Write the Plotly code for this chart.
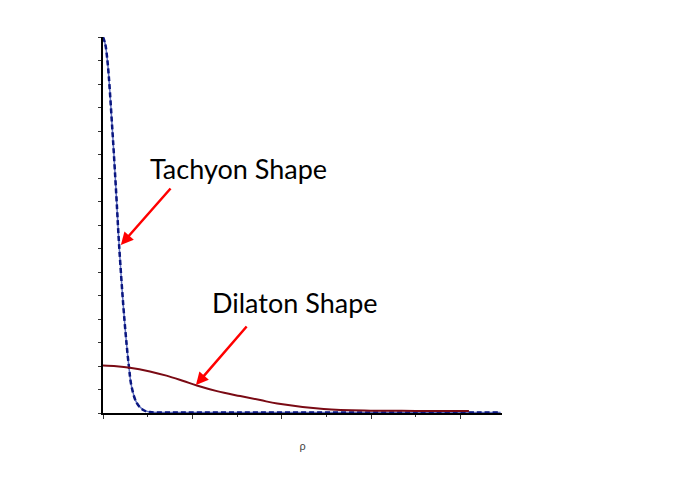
import plotly.graph_objects as go

# tachyon profile
rho_t = [0, 0.05, 0.105, 0.21, 0.30, 0.36, 0.48, 0.58, 0.64, 0.755, 0.90, 1.05, 1.5, 3, 5, 7, 8.9]
tachyon = [16, 15.7, 14.88, 12.04, 9.2, 7.15, 3.96, 1.97, 1.12, 0.43, 0.13, 0.04, 0.02, 0.02, 0.02, 0.02, 0.02]

# dilaton profile
rho_d = [0, 0.3, 0.6, 1.05, 1.42, 1.80, 2.10, 2.55, 3.07, 3.52, 3.90, 4.94, 5.99, 7.0, 8.19]
dilaton = [2.02, 1.99, 1.93, 1.77, 1.59, 1.36, 1.17, 0.93, 0.72, 0.55, 0.40, 0.17, 0.10, 0.09, 0.085]

fig = go.Figure()

# blue curve: light solid under a dark dashed stroke
fig.add_trace(go.Scatter(x=rho_t, y=tachyon, mode='lines', line_shape='spline',
                         line=dict(color='#6070c0', width=1.5), hoverinfo='skip'))
fig.add_trace(go.Scatter(x=rho_t, y=tachyon, mode='lines', line_shape='spline',
                         line=dict(color='#0a1680', width=2.5, dash='5px,3px')))
fig.add_trace(go.Scatter(x=rho_d, y=dilaton, mode='lines', line_shape='spline',
                         line=dict(color='#7a0a14', width=2)))

arrow = dict(showarrow=True, arrowhead=2, arrowsize=1, arrowwidth=2.5,
             arrowcolor='#ff0000', text='', xref='x', yref='y', axref='pixel', ayref='pixel')
fig.add_annotation(x=0.40, y=7.15, ax=51, ay=-58, **arrow)
fig.add_annotation(x=2.08, y=1.19, ax=52, ay=-60, **arrow)

label = dict(showarrow=False, xref='x', yref='y', xanchor='center', yanchor='middle',
             font=dict(family='Lato', size=27, color='#000000'))
fig.add_annotation(x=3.04, y=10.4, text='Tachyon Shape', **label)
fig.add_annotation(x=4.29, y=4.7, text='Dilaton Shape', **label)

# the page body adds an 8px margin, so the margins are trimmed by that much
fig.update_layout(
    width=698, height=493,
    margin=dict(l=95, r=204, t=29, b=88),
    plot_bgcolor='white', paper_bgcolor='white',
    showlegend=False,
)
fig.update_xaxes(range=[0, 8.93], showgrid=False, zeroline=False,
                 showline=True, linecolor='black', linewidth=1.5,
                 ticks='outside', tickcolor='#333', ticklen=4, tick0=0, dtick=2,
                 showticklabels=False,
                 minor=dict(ticks='outside', ticklen=2, dtick=1, tickcolor='#333'),
                 title=dict(text='ρ', standoff=25, font=dict(family='Lato', size=11, color='#444')))
fig.update_yaxes(range=[0, 16], showgrid=False, zeroline=False,
                 showline=True, linecolor='black', linewidth=1.5,
                 ticks='outside', tickcolor='#333', ticklen=3, dtick=1,
                 showticklabels=False)

fig.write_html("out.html")
